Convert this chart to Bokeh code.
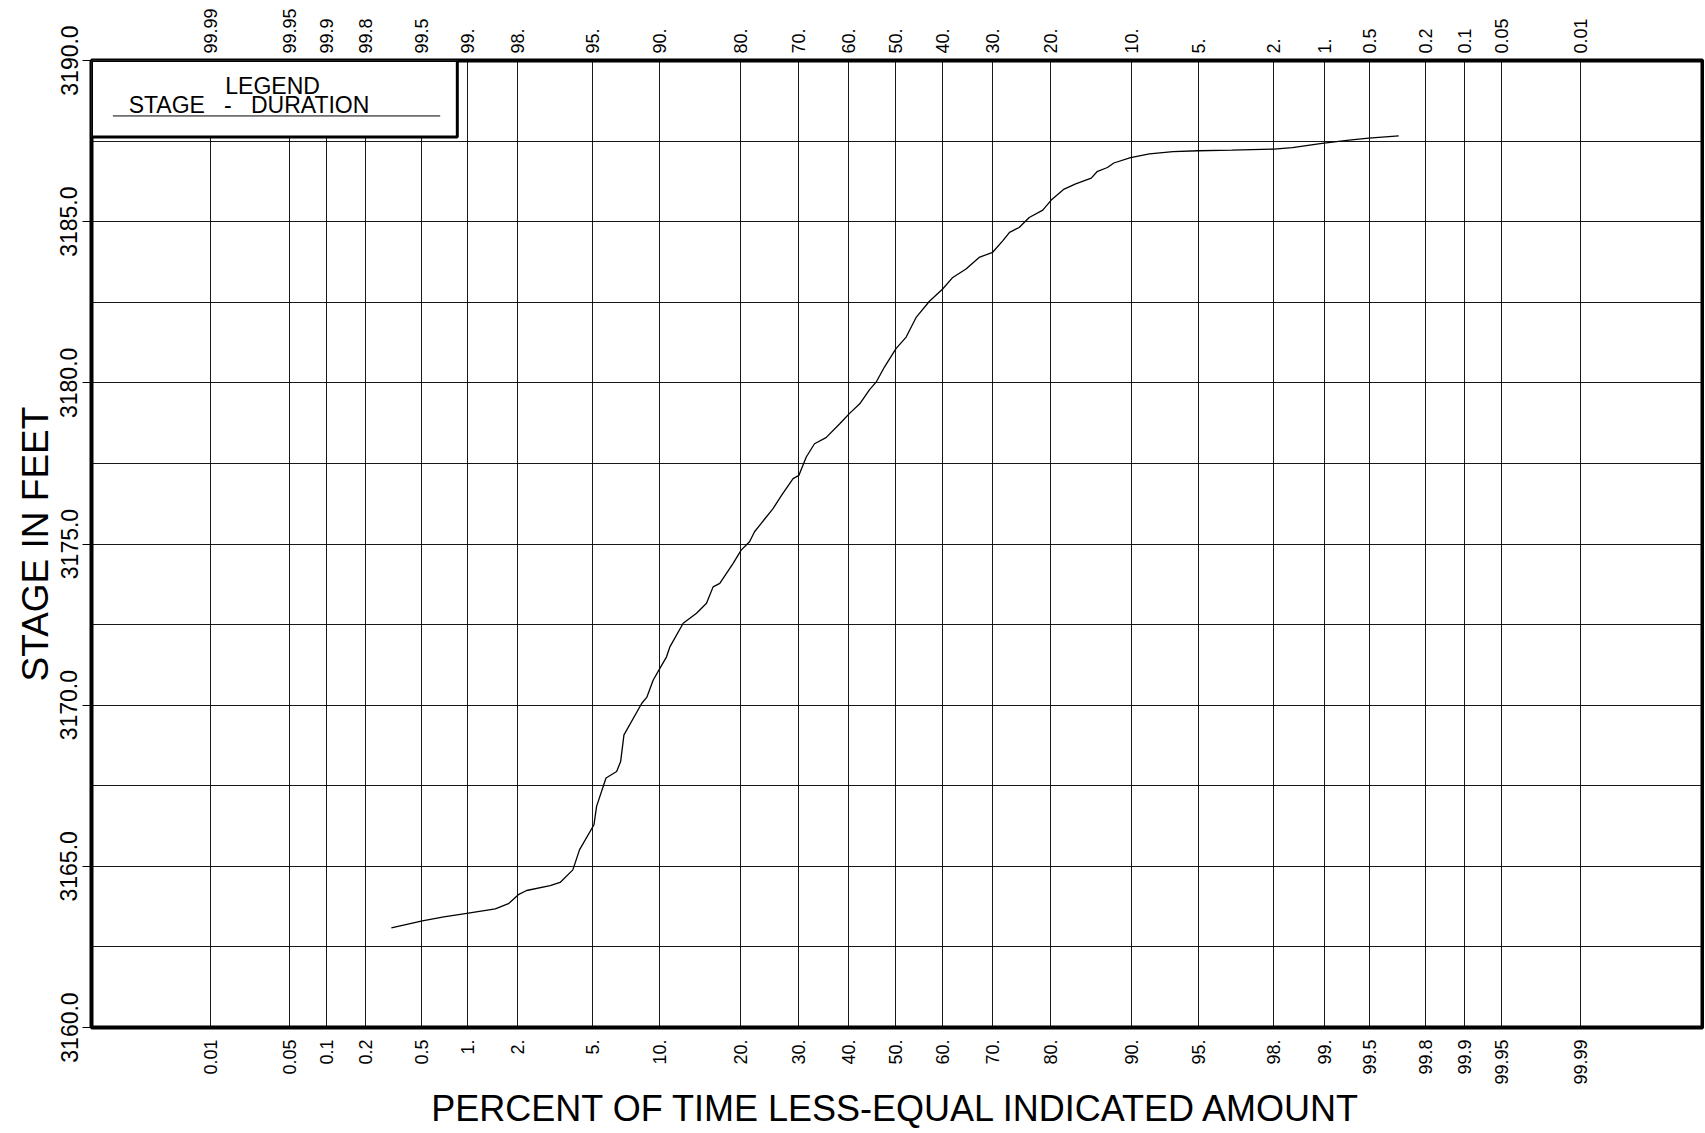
import math
from statistics import NormalDist

from bokeh.plotting import figure
from bokeh.models import (Range1d, FixedTicker, LinearAxis, CustomJSTickFormatter,
                          NumeralTickFormatter, BoxAnnotation, Label, Arrow, ColumnDataSource)
from bokeh.embed import file_html
from bokeh.resources import INLINE

# ---------------- data ----------------
percent_less_equal = [0.31, 0.51, 0.71, 1.02, 1.49, 1.78, 2.03, 2.26, 3.04, 3.43,
                      3.99, 4.31, 5.08, 5.23, 5.80, 6.50, 6.78, 7.02, 8.42, 8.84,
                      9.42, 10.04, 10.69, 11.03, 12.45, 14.00, 15.24, 16.1, 17.0, 18.9,
                      20.1, 21.4, 22.2, 23.3, 25.3, 26.8, 28.9, 30.0, 31.4, 33.0,
                      35.3, 38.1, 40.2, 42.3, 44.4, 45.8, 47.6, 50.1, 52.3, 54.5,
                      57.3, 60.1, 62.2, 64.9, 67.5, 70.1, 72.0, 73.2, 74.9, 76.6,
                      78.8, 80.1, 82.0, 83.6, 85.6, 86.3, 87.5, 88.2, 89.9, 91.6,
                      93.4, 95.0, 96.6, 98.0, 98.44, 98.97, 99.31, 99.49, 99.685]
stage_feet = [3163.09, 3163.31, 3163.43, 3163.55, 3163.68, 3163.84, 3164.12, 3164.25, 3164.40, 3164.50,
              3164.89, 3165.51, 3166.29, 3166.86, 3167.74, 3167.94, 3168.25, 3169.08, 3170.06, 3170.24,
              3170.78, 3171.14, 3171.50, 3171.81, 3172.54, 3172.85, 3173.16, 3173.67, 3173.78, 3174.40,
              3174.81, 3175.07, 3175.38, 3175.64, 3176.10, 3176.51, 3177.03, 3177.13, 3177.70, 3178.11,
              3178.30, 3178.73, 3179.06, 3179.35, 3179.79, 3180.02, 3180.49, 3181.06, 3181.42, 3182.04,
              3182.53, 3182.91, 3183.27, 3183.53, 3183.89, 3184.05, 3184.41, 3184.67, 3184.82, 3185.13,
              3185.36, 3185.67, 3186.01, 3186.17, 3186.35, 3186.55, 3186.68, 3186.82, 3186.99, 3187.10,
              3187.17, 3187.20, 3187.22, 3187.25, 3187.30, 3187.43, 3187.53, 3187.59, 3187.66]

tick_percent = [0.01, 0.05, 0.1, 0.2, 0.5, 1, 2, 5, 10, 20, 30, 40, 50, 60, 70, 80,
                90, 95, 98, 99, 99.5, 99.8, 99.9, 99.95, 99.99]
bottom_labels = ["0.01", "0.05", "0.1", "0.2", "0.5", "1.", "2.", "5.", "10.", "20.", "30.",
                 "40.", "50.", "60.", "70.", "80.", "90.", "95.", "98.", "99.", "99.5",
                 "99.8", "99.9", "99.95", "99.99"]
top_labels = ["99.99", "99.95", "99.9", "99.8", "99.5", "99.", "98.", "95.", "90.", "80.",
              "70.", "60.", "50.", "40.", "30.", "20.", "10.", "5.", "2.", "1.", "0.5",
              "0.2", "0.1", "0.05", "0.01"]
stage_ticks = [3160, 3165, 3170, 3175, 3180, 3185, 3190]
stage_grid = [3160, 3162.5, 3165, 3167.5, 3170, 3172.5, 3175, 3177.5, 3180, 3182.5,
              3185, 3187.5, 3190]

# --------------- probability (normal) scale ---------------
nd = NormalDist()


def probit(pct):
    return nd.inv_cdf(pct / 100.0)


tick_z = [probit(v) for v in tick_percent]
curve_z = [probit(v) for v in percent_less_equal]

FONT = "Liberation Sans"
Z_MIN, Z_MAX = -4.365, 4.381
NB = "\u00a0"

p = figure(width=1704, height=1131, output_backend="svg", toolbar_location=None,
           x_range=Range1d(Z_MIN, Z_MAX), y_range=Range1d(3160, 3190),
           min_border_left=91, min_border_right=2, min_border_top=60, min_border_bottom=102)
p.background_fill_color = "white"
p.border_fill_color = "white"
p.outline_line_color = "black"
p.outline_line_width = 4

fmt_js = """
let best = 0, bd = Infinity;
for (let i = 0; i < pos.length; i++) {
  const d = Math.abs(pos[i] - tick);
  if (d < bd) { bd = d; best = i; }
}
return labs[best];
"""

# bottom axis
xa = p.xaxis[0]
xa.ticker = FixedTicker(ticks=tick_z)
xa.formatter = CustomJSTickFormatter(args=dict(pos=tick_z, labs=bottom_labels), code=fmt_js)
xa.major_label_orientation = math.pi / 2
xa.axis_label = "PERCENT OF TIME LESS-EQUAL INDICATED AMOUNT"

# top axis
ta = LinearAxis(ticker=FixedTicker(ticks=tick_z),
                formatter=CustomJSTickFormatter(args=dict(pos=tick_z, labs=top_labels), code=fmt_js))
ta.major_label_orientation = "vertical"
p.add_layout(ta, "above")

for ax in (xa, ta):
    ax.axis_line_color = None
    ax.major_tick_in = 0
    ax.major_tick_out = 0
    ax.minor_tick_line_color = None
    ax.major_label_standoff = 12
    ax.major_label_text_font = FONT
    ax.major_label_text_font_size = "18px"
    ax.major_label_text_color = "black"
ta.major_label_standoff = 7
xa.axis_label_text_font = FONT
xa.axis_label_text_font_size = "36px"
xa.axis_label_text_font_style = "normal"
xa.axis_label_text_color = "black"
xa.axis_label_standoff = 0

# left axis
ya = p.yaxis[0]
ya.ticker = FixedTicker(ticks=stage_ticks)
ya.formatter = NumeralTickFormatter(format="0.0")
ya.major_label_orientation = "vertical"
ya.axis_line_color = None
ya.major_tick_in = 0
ya.major_tick_out = 9
ya.major_tick_line_color = "black"
ya.minor_tick_line_color = None
ya.major_label_standoff = 5
ya.major_label_text_font = FONT
ya.major_label_text_font_size = "23px"
ya.major_label_text_color = "black"
ya.axis_label = "STAGE IN FEET"
ya.axis_label_text_font = FONT
ya.axis_label_text_font_size = "37px"
ya.axis_label_text_font_style = "normal"
ya.axis_label_text_color = "black"
ya.axis_label_standoff = 2

# grids
p.xgrid.ticker = FixedTicker(ticks=tick_z)
p.ygrid.ticker = FixedTicker(ticks=stage_grid)
for g in (p.xgrid[0], p.ygrid[0]):
    g.grid_line_color = "black"
    g.grid_line_width = 1
    g.grid_line_alpha = 0.9

# curve
src = ColumnDataSource(data=dict(z=curve_z, stage=stage_feet))
p.line("z", "stage", source=src, line_color="black", line_width=1.3)

# legend block (upper-left corner of plotting area)
LEG_RIGHT = -2.379
LEG_BOTTOM = 3187.63
p.add_layout(BoxAnnotation(left=Z_MIN, right=LEG_RIGHT, bottom=LEG_BOTTOM, top=3190,
                           fill_color="white", fill_alpha=1.0,
                           line_color="black", line_width=3, line_alpha=1.0))
p.add_layout(Label(x=-3.382, y=3189.21, text="LEGEND", text_align="center",
                   text_baseline="middle", text_font=FONT, text_font_size="23px",
                   text_color="black"))
p.add_layout(Label(x=-3.51, y=3188.62, text="STAGE" + NB * 3 + "-" + NB * 3 + "DURATION",
                   text_align="center", text_baseline="middle", text_font=FONT,
                   text_font_size="23px", text_color="black"))
p.add_layout(Arrow(end=None, x_start=-4.249, y_start=3188.28, x_end=-2.472, y_end=3188.28,
                   line_color="black", line_width=1))

open("out.html", "w").write(file_html(p, INLINE))
